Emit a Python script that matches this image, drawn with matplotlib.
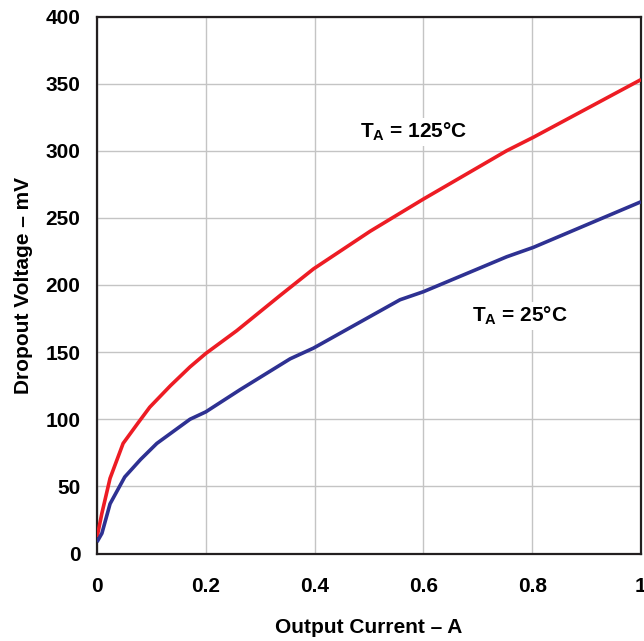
import matplotlib
matplotlib.use("Agg")
import matplotlib.pyplot as plt

plt.rcParams['font.family'] = ['Liberation Sans', 'DejaVu Sans']
plt.rcParams['font.weight'] = 'bold'
plt.rcParams['mathtext.fontset'] = 'custom'
plt.rcParams['mathtext.rm'] = 'Liberation Sans:bold'
plt.rcParams['mathtext.it'] = 'Liberation Sans:bold'
plt.rcParams['mathtext.bf'] = 'Liberation Sans:bold'

# Data (Output current in A, dropout voltage in mV)
x_125 = [0.0, 0.009, 0.024, 0.048, 0.075, 0.097, 0.135, 0.171, 0.2, 0.257, 0.336, 0.398, 0.502, 0.6, 0.753, 0.802, 1.0]
y_125 = [12, 30, 56, 82, 97, 109, 125, 139, 149, 166, 192, 212, 240, 264, 300, 310, 353]

x_25 = [0.0, 0.009, 0.024, 0.051, 0.08, 0.11, 0.171, 0.2, 0.263, 0.355, 0.398, 0.557, 0.6, 0.753, 0.802, 1.0]
y_25 = [8.6, 15, 37, 57, 70, 82, 100, 105.5, 122, 145, 153, 189, 195, 221, 228, 262]

xticks = [0, 0.2, 0.4, 0.6, 0.8, 1.0]
xticklabels = ['0', '0.2', '0.4', '0.6', '0.8', '1']
yticks = [0, 50, 100, 150, 200, 250, 300, 350, 400]

fig = plt.figure(figsize=(6.44, 6.41), dpi=100)
ax = fig.add_axes([97/644, 1 - 553.5/641, 544/644, 537/641])

ax.plot(x_125, y_125, color='#ED1C24', lw=2.6, solid_capstyle='butt', zorder=3)
ax.plot(x_25, y_25, color='#2E3192', lw=2.6, solid_capstyle='butt', zorder=3)

ax.set_xlim(0, 1)
ax.set_ylim(0, 400)
ax.set_xticks(xticks)
ax.set_xticklabels(xticklabels)
ax.set_yticks(yticks)
ax.grid(True, color='#c4c4c4', lw=1.0, zorder=0)
ax.set_axisbelow(True)
ax.tick_params(length=0, labelsize=15)
ax.tick_params(axis='x', pad=17)
ax.tick_params(axis='y', pad=12)
for s in ax.spines.values():
    s.set_color('#231f20')
    s.set_linewidth(1.6)

ax.set_xlabel('Output Current – A', fontsize=15, fontweight='bold', labelpad=16)
ax.set_ylabel('Dropout Voltage – mV', fontsize=15, fontweight='bold', labelpad=9)

bbox = dict(facecolor='white', edgecolor='none', pad=2)
ax.text(0.483, 314, '$T_A$ = 125°C', fontsize=15, fontweight='bold', va='center', ha='left', bbox=bbox, zorder=2)
ax.text(0.69, 177, '$T_A$ = 25°C', fontsize=15, fontweight='bold', va='center', ha='left', bbox=bbox, zorder=2)

fig.savefig('out.png', dpi=100)
